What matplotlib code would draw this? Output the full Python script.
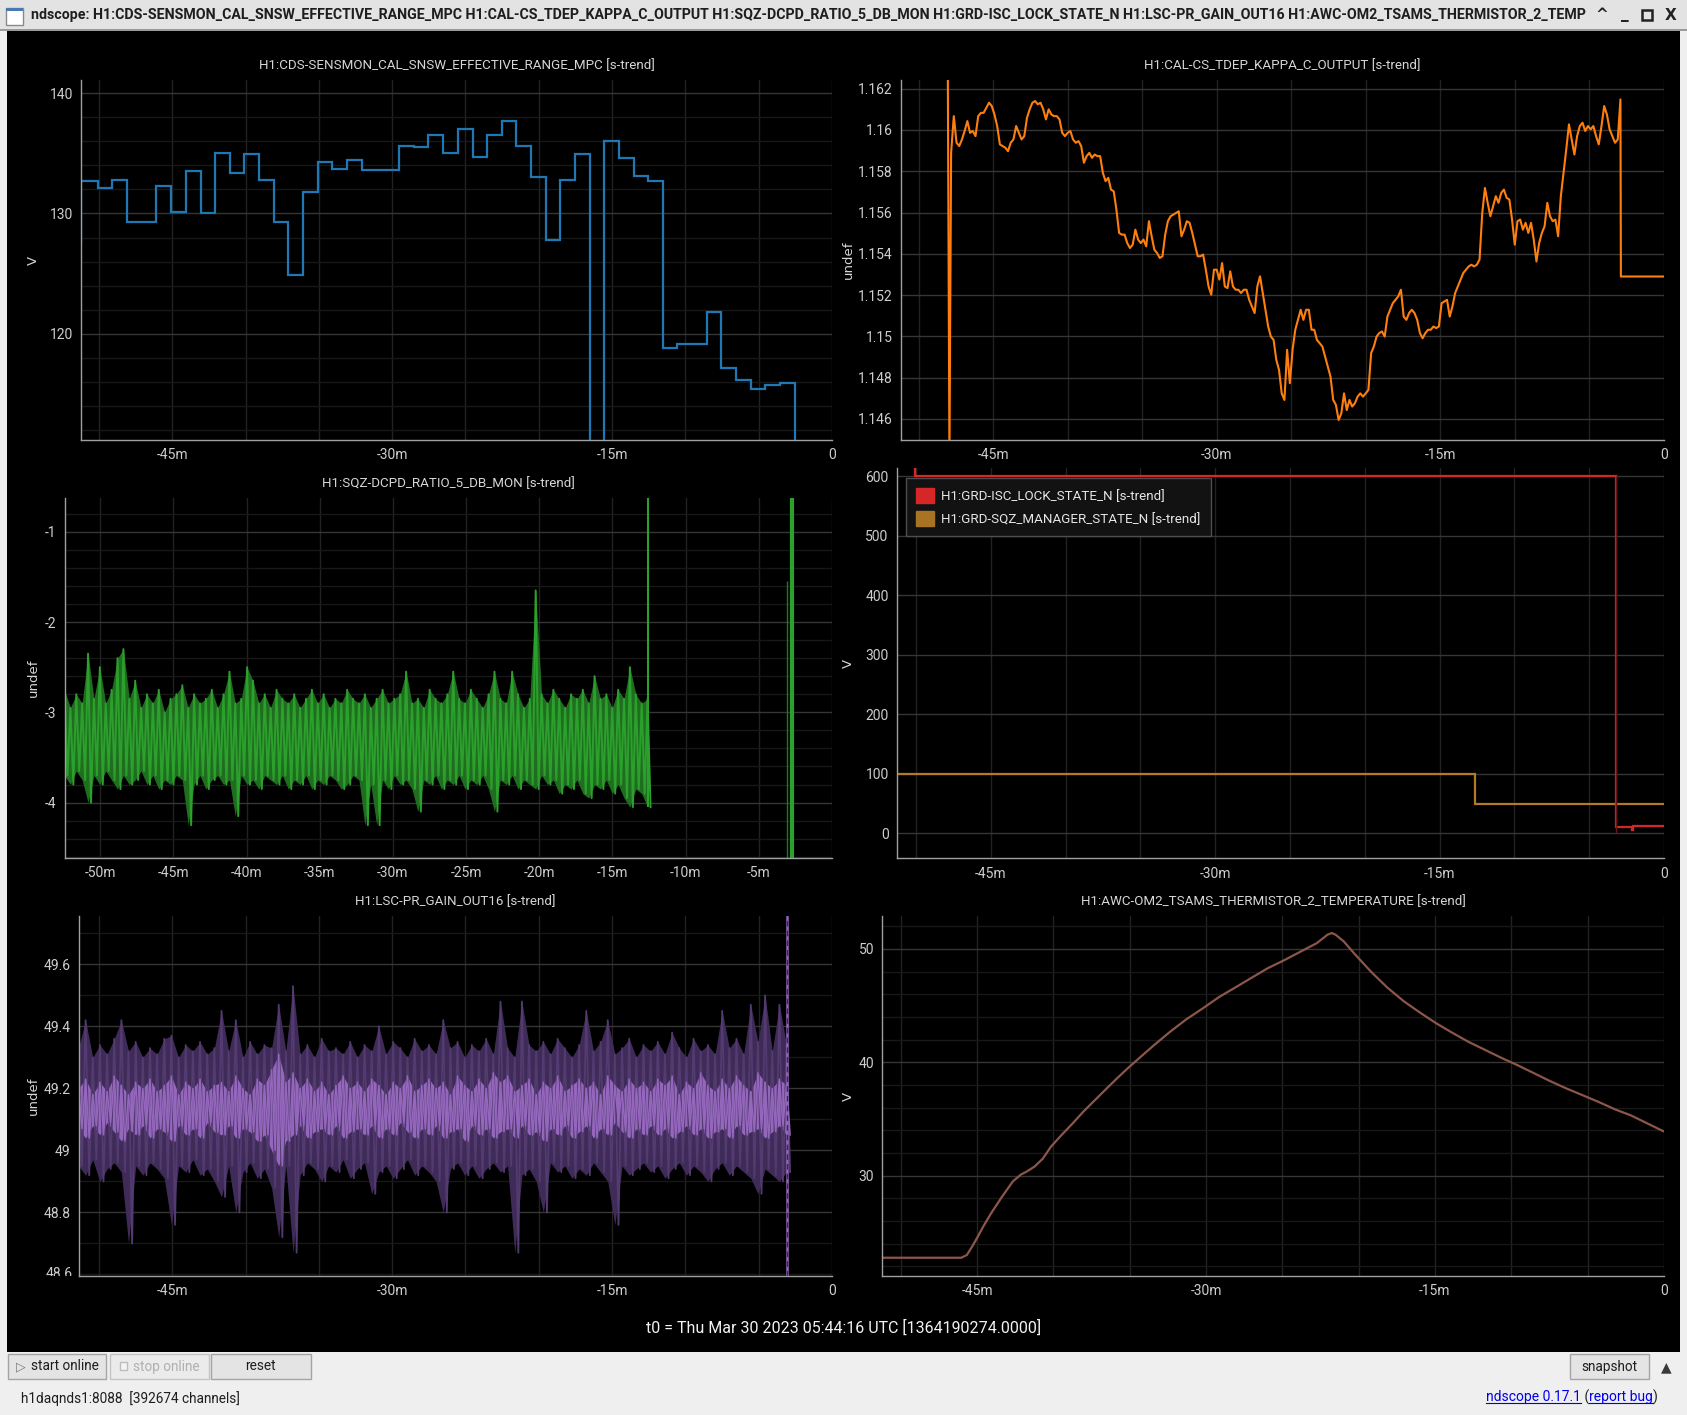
import numpy as np
import matplotlib
matplotlib.use("Agg")
import matplotlib.pyplot as plt
from matplotlib.patches import Rectangle, Patch
from matplotlib.lines import Line2D
from matplotlib.ticker import FixedLocator, MultipleLocator, FuncFormatter
from matplotlib.transforms import Bbox, TransformedBbox

W, H = 1687, 1415
UI = ['Roboto', 'DejaVu Sans']
plt.rcParams['font.family'] = UI

# ---------------- data (minutes before t0) ----------------
# H1:CDS-SENSMON_CAL_SNSW_EFFECTIVE_RANGE_MPC, step trend
range_edges = [-51.4, -51.2, -50.09, -49.09, -48.06, -46.10, -45.06, -44.07, -43.07, -42.07,
               -41.07, -40.07, -39.08, -38.08, -37.08, -36.08, -35.08, -34.09, -33.09, -32.05,
               -29.54, -28.54, -27.54, -26.51, -25.51, -24.51, -23.51, -22.51, -21.52, -20.52,
               -19.52, -18.52, -17.52, -16.53, -15.53, -14.53, -13.53, -12.53, -11.53, -10.54,
               -8.54, -7.54, -6.54, -5.55, -4.55, -3.55, -2.55, -2.45]
range_vals = [127.5, 132.7, 132.1, 132.8, 129.3, 132.3, 130.1, 133.5, 130.0, 135.0,
              133.4, 134.95, 132.8, 129.3, 124.9, 131.8, 134.3, 133.7, 134.4, 133.6,
              135.6, 135.5, 136.5, 135.0, 137.0, 134.7, 136.5, 137.7, 135.6, 133.0,
              127.8, 132.8, 134.95, 0.0, 136.0, 134.6, 133.1, 132.7, 118.8, 119.2,
              121.8, 117.2, 116.15, 115.4, 115.8, 115.95, 0.0]

# H1:CAL-CS_TDEP_KAPPA_C_OUTPUT
kappa_t0, kappa_dt = -47.818, 0.18182
kappa_vals = [
    1.15889, 1.16067, 1.15938, 1.15922, 1.15954, 1.15995, 1.16043, 1.15986, 1.15995, 1.15970,
    1.16067, 1.16083, 1.16083, 1.16108, 1.16132, 1.16116, 1.16075, 1.16019, 1.15930, 1.15922,
    1.15914, 1.15897, 1.15938, 1.15954, 1.16019, 1.15986, 1.15954, 1.15970, 1.16059, 1.16100,
    1.16132, 1.16140, 1.16124, 1.16132, 1.16100, 1.16051, 1.16100, 1.16075, 1.16067, 1.16067,
    1.16051, 1.15986, 1.15970, 1.15986, 1.15995, 1.15954, 1.15938, 1.15946, 1.15922, 1.15841,
    1.15873, 1.15889, 1.15865, 1.15881, 1.15873, 1.15873, 1.15792, 1.15752, 1.15768, 1.15711,
    1.15703, 1.15614, 1.15501, 1.15493, 1.15493, 1.15452, 1.15428, 1.15444, 1.15517, 1.15469,
    1.15452, 1.15469, 1.15436, 1.15558, 1.15485, 1.15420, 1.15404, 1.15380, 1.15388, 1.15493,
    1.15558, 1.15582, 1.15590, 1.15598, 1.15606, 1.15485, 1.15517, 1.15558, 1.15550, 1.15501,
    1.15444, 1.15388, 1.15388, 1.15396, 1.15323, 1.15242, 1.15202, 1.15323, 1.15323, 1.15275,
    1.15355, 1.15242, 1.15234, 1.15315, 1.15242, 1.15226, 1.15226, 1.15210, 1.15226, 1.15226,
    1.15177, 1.15145, 1.15113, 1.15242, 1.15291, 1.15210, 1.15129, 1.15048, 1.14999, 1.14983,
    1.14886, 1.14838, 1.14724, 1.14692, 1.14935, 1.14773, 1.14935, 1.15032, 1.15080, 1.15129,
    1.15080, 1.15129, 1.15129, 1.15032, 1.15032, 1.14983, 1.14967, 1.14951, 1.14902, 1.14854,
    1.14805, 1.14692, 1.14668, 1.14595, 1.14627, 1.14724, 1.14643, 1.14692, 1.14660, 1.14676,
    1.14708, 1.14724, 1.14708, 1.14724, 1.14741, 1.14919, 1.14951, 1.14999, 1.15016, 1.15024,
    1.14999, 1.15096, 1.15129, 1.15161, 1.15177, 1.15194, 1.15226, 1.15096, 1.15080, 1.15113,
    1.15129, 1.15113, 1.15080, 1.15016, 1.14991, 1.15016, 1.15032, 1.15032, 1.15048, 1.15040,
    1.15048, 1.15161, 1.15169, 1.15177, 1.15096, 1.15145, 1.15210, 1.15242, 1.15275, 1.15307,
    1.15323, 1.15339, 1.15347, 1.15339, 1.15347, 1.15372, 1.15598, 1.15719, 1.15647, 1.15582,
    1.15630, 1.15679, 1.15647, 1.15695, 1.15711, 1.15671, 1.15663, 1.15566, 1.15444, 1.15558,
    1.15566, 1.15517, 1.15550, 1.15501, 1.15550, 1.15469, 1.15363, 1.15452, 1.15501, 1.15533,
    1.15647, 1.15582, 1.15558, 1.15566, 1.15485, 1.15679, 1.15792, 1.15906, 1.16027, 1.15954,
    1.15881, 1.15970, 1.16019, 1.16035, 1.15995, 1.16019, 1.16003, 1.16019, 1.15970, 1.15930,
    1.16019, 1.16116, 1.16075, 1.16003, 1.15970, 1.15938, 1.15954, 1.16148]
kappa_head_t = [-48.04, -47.93]
kappa_head_v = [1.1630, 1.1440]
kappa_tail_t = [-2.88, 0.0]
kappa_tail_v = [1.1529, 1.1529]

# H1:SQZ-DCPD_RATIO_5_DB_MON, min/max envelope
sqz_span = (-52.44, -12.6)
sqz_hi = [-2.75, -2.95, -2.8, -2.9, -2.35, -2.85, -2.5, -2.9, -2.75, -2.4,
          -2.3, -2.85, -2.65, -2.95, -2.8, -2.9, -2.75, -3.0, -2.85, -2.8,
          -2.7, -2.95, -2.8, -2.9, -2.85, -2.75, -2.95, -2.8, -2.55, -2.9,
          -2.85, -2.5, -2.65, -2.9, -2.8, -2.95, -2.75, -2.85, -2.9, -2.8,
          -2.95, -2.85, -2.75, -2.9, -2.8, -2.95, -2.85, -2.9, -2.75, -2.85,
          -2.9, -2.8, -2.95, -2.85, -2.75, -2.9, -2.85, -2.8, -2.55, -2.9,
          -2.85, -2.95, -2.75, -2.85, -2.9, -2.8, -2.55, -2.85, -2.9, -2.75,
          -2.85, -2.95, -2.8, -2.55, -2.85, -2.9, -2.55, -2.8, -2.95, -2.85,
          -1.65, -2.8, -2.9, -2.75, -2.85, -2.95, -2.8, -2.85, -2.75, -2.9,
          -2.6, -2.85, -2.8, -2.95, -2.75, -2.85, -2.5, -2.8, -2.9, -2.85]
sqz_lo = [-3.7, -3.8, -3.65, -3.75, -4.0, -3.7, -3.8, -3.65, -3.75, -3.85,
          -3.7, -3.8, -3.75, -3.65, -3.8, -3.7, -3.85, -3.75, -3.8, -3.7,
          -3.75, -4.25, -3.8, -3.7, -3.85, -3.75, -3.7, -3.8, -3.75, -4.15,
          -3.7, -3.8, -3.75, -3.85, -3.7, -3.75, -3.8, -3.7, -3.85, -3.75,
          -3.8, -3.7, -3.85, -3.75, -3.8, -3.7, -3.75, -3.85, -3.8, -3.7,
          -3.75, -4.25, -3.8, -4.25, -3.75, -3.85, -3.7, -3.8, -3.75, -3.85,
          -4.1, -3.75, -3.8, -3.7, -3.85, -3.75, -3.8, -3.7, -3.85, -3.75,
          -3.8, -3.7, -3.85, -4.1, -3.75, -3.8, -3.7, -3.85, -3.75, -3.8,
          -3.85, -3.7, -3.8, -3.75, -3.9, -3.8, -3.85, -3.75, -3.9, -3.95,
          -3.8, -3.85, -3.75, -3.9, -3.8, -3.95, -4.05, -3.85, -3.9, -4.05]
sqz_spike_x = [-12.55, -3.07, -2.7]
sqz_spike_lo = [-4.05, -4.7, -4.7]
sqz_spike_hi = [-0.5, -1.55, -0.5]

# guardian states
isc_edges = [-50.15, -50.1, -3.19, -2.17, -2.1, 0.0]
isc_vals = [700, 600, 10, 5, 12]
sqzman_edges = [-51.3, -12.61, 0.0]
sqzman_vals = [100, 50]

# H1:LSC-PR_GAIN_OUT16, min/max envelope and mean band
pr_span = (-51.4, -3.1)
pr_hi = [49.33, 49.42, 49.30, 49.34, 49.31, 49.36, 49.42, 49.32, 49.35, 49.30,
         49.33, 49.31, 49.36, 49.37, 49.30, 49.34, 49.32, 49.35, 49.31, 49.33,
         49.45, 49.32, 49.42, 49.30, 49.35, 49.31, 49.34, 49.33, 49.47, 49.32,
         49.53, 49.31, 49.34, 49.30, 49.36, 49.32, 49.33, 49.31, 49.35, 49.30,
         49.34, 49.32, 49.40, 49.31, 49.35, 49.33, 49.30, 49.36, 49.32, 49.34,
         49.31, 49.42, 49.33, 49.35, 49.30, 49.34, 49.32, 49.36, 49.31, 49.48,
         49.33, 49.30, 49.48, 49.34, 49.32, 49.35, 49.31, 49.36, 49.33, 49.30,
         49.34, 49.45, 49.32, 49.35, 49.42, 49.31, 49.33, 49.36, 49.30, 49.34,
         49.32, 49.35, 49.31, 49.38, 49.33, 49.30, 49.36, 49.32, 49.34, 49.31,
         49.45, 49.33, 49.36, 49.31, 49.47, 49.35, 49.50, 49.32, 49.47, 49.34]
pr_lo = [48.95, 48.92, 48.97, 48.90, 48.94, 48.96, 48.93, 48.70, 48.95, 48.92,
         48.96, 48.94, 48.91, 48.76, 48.95, 48.93, 48.97, 48.92, 48.94, 48.90,
         48.85, 48.95, 48.80, 48.93, 48.96, 48.91, 48.94, 48.88, 48.72, 48.95,
         48.67, 48.92, 48.96, 48.94, 48.90, 48.95, 48.93, 48.97, 48.91, 48.94,
         48.96, 48.86, 48.93, 48.95, 48.91, 48.94, 48.97, 48.92, 48.95, 48.93,
         48.90, 48.80, 48.94, 48.96, 48.92, 48.95, 48.91, 48.94, 48.96, 48.93,
         48.95, 48.67, 48.92, 48.94, 48.90, 48.80, 48.96, 48.93, 48.95, 48.91,
         48.94, 48.92, 48.96, 48.93, 48.90, 48.76, 48.95, 48.92, 48.94, 48.96,
         48.93, 48.95, 48.91, 48.94, 48.96, 48.92, 48.95, 48.93, 48.90, 48.94,
         48.96, 48.92, 48.95, 48.93, 48.91, 48.86, 48.94, 48.92, 48.90, 48.93]
pr_mean_hi = [49.20, 49.23, 49.18, 49.22, 49.19, 49.24, 49.21, 49.18, 49.22, 49.20,
              49.23, 49.19, 49.21, 49.24, 49.18, 49.22, 49.20, 49.23, 49.19, 49.21,
              49.22, 49.19, 49.24, 49.20, 49.18, 49.23, 49.21, 49.26, 49.31, 49.22,
              49.25, 49.20, 49.23, 49.19, 49.22, 49.18, 49.21, 49.24, 49.20, 49.22,
              49.19, 49.23, 49.21, 49.18, 49.22, 49.20, 49.24, 49.19, 49.21, 49.23,
              49.20, 49.22, 49.18, 49.24, 49.21, 49.19, 49.23, 49.20, 49.25, 49.22,
              49.24, 49.19, 49.21, 49.23, 49.18, 49.22, 49.20, 49.24, 49.19, 49.21,
              49.23, 49.20, 49.22, 49.18, 49.24, 49.21, 49.19, 49.23, 49.20, 49.22,
              49.19, 49.23, 49.21, 49.24, 49.18, 49.22, 49.20, 49.25, 49.21, 49.19,
              49.23, 49.20, 49.24, 49.21, 49.19, 49.25, 49.22, 49.20, 49.23, 49.21]
pr_mean_lo = [49.07, 49.04, 49.08, 49.05, 49.09, 49.06, 49.03, 49.07, 49.05, 49.08,
              49.04, 49.07, 49.06, 49.03, 49.08, 49.05, 49.07, 49.04, 49.09, 49.06,
              49.05, 49.08, 49.04, 49.07, 49.06, 49.03, 49.05, 49.00, 48.95, 49.03,
              49.05, 49.08, 49.04, 49.06, 49.07, 49.05, 49.08, 49.04, 49.06, 49.07,
              49.05, 49.08, 49.04, 49.07, 49.05, 49.09, 49.06, 49.04, 49.07, 49.05,
              49.08, 49.04, 49.06, 49.07, 49.03, 49.08, 49.05, 49.07, 49.04, 49.06,
              49.07, 49.04, 49.08, 49.05, 49.06, 49.03, 49.07, 49.05, 49.08, 49.04,
              49.06, 49.08, 49.04, 49.07, 49.05, 49.09, 49.06, 49.04, 49.07, 49.05,
              49.08, 49.05, 49.07, 49.04, 49.06, 49.08, 49.05, 49.07, 49.04, 49.06,
              49.07, 49.04, 49.08, 49.05, 49.06, 49.07, 49.04, 49.06, 49.08, 49.05]
pr_spike_x = -3.08

# H1:AWC-OM2_TSAMS_THERMISTOR_2_TEMPERATURE
temp_t = [-51.22, -46.04, -45.68, -45.33, -44.97, -44.61, -44.08, -43.37, -42.66, -42.13,
          -41.77, -41.24, -40.70, -40.17, -39.46, -38.75, -38.04, -37.33, -36.62, -35.90,
          -35.19, -34.48, -33.42, -32.35, -31.28, -30.22, -29.15, -28.08, -27.02, -25.95,
          -24.88, -23.82, -22.75, -22.04, -21.76, -21.51, -20.97, -20.26, -19.20, -18.13,
          -17.06, -16.00, -14.93, -13.86, -12.80, -11.73, -10.66, -9.60, -8.53, -7.47,
          -6.40, -5.33, -4.27, -3.20, -2.13, -1.07, 0.0]
temp_v = [22.76, 22.76, 23.0, 23.75, 24.6, 25.5, 26.7, 28.15, 29.5, 30.1,
          30.35, 30.8, 31.5, 32.55, 33.6, 34.6, 35.65, 36.6, 37.55, 38.5,
          39.4, 40.25, 41.5, 42.7, 43.8, 44.75, 45.75, 46.6, 47.45, 48.3,
          49.0, 49.75, 50.5, 51.25, 51.4, 51.25, 50.65, 49.55, 48.0, 46.6,
          45.4, 44.4, 43.45, 42.6, 41.8, 41.1, 40.4, 39.75, 39.05, 38.35,
          37.7, 37.1, 36.5, 35.85, 35.3, 34.6, 33.9]

t0_label = "t0 = Thu Mar 30 2023 05:44:16 UTC [1364190274.0000]"
window_title = ("ndscope: H1:CDS-SENSMON_CAL_SNSW_EFFECTIVE_RANGE_MPC H1:CAL-CS_TDEP_KAPPA_C_OUTPUT "
                "H1:SQZ-DCPD_RATIO_5_DB_MON H1:GRD-ISC_LOCK_STATE_N H1:LSC-PR_GAIN_OUT16 "
                "H1:AWC-OM2_TSAMS_THERMISTOR_2_TEMPERATURE H1:GRD-SQZ_MANAGER_STATE_N")

# ---------------- figure ----------------
fig = plt.figure(figsize=(W / 100, H / 100), dpi=100, facecolor='#efefef')
renderer = fig.canvas.get_renderer()


def fx(x):
    return x / W


def fy(y):
    return 1 - y / H


def frect(x0, y0, x1, y1, z=-10, **kw):
    r = Rectangle((fx(x0), fy(y1)), (x1 - x0) / W, (y1 - y0) / H,
                  transform=fig.transFigure, zorder=z, **kw)
    fig.add_artist(r)
    return r


def zigzag(t, hi, lo):
    # interleave max/min so the trend looks like dense vertical strokes
    t = np.asarray(t)
    half = (t[1] - t[0]) / 2
    xs = np.column_stack([t, t + half]).ravel()
    ys = np.column_stack([hi, lo]).ravel()
    return xs, ys


# window chrome
frect(0, 0, W, 29, facecolor='#e3e3e3', edgecolor='none')
frect(0, 29, W, 31, facecolor='#9a9a9a', edgecolor='none')
frect(6.5, 30.7, 1680, 1351.7, facecolor='black', edgecolor='none')
frect(6, 8, 23, 25, facecolor='white', edgecolor='#8a8a8a', lw=1)
frect(6, 8, 23, 11, facecolor='#4a78b0', edgecolor='none')
tt = fig.text(fx(31), fy(15.5), window_title, ha='left', va='center', fontsize=10.2,
              fontweight='bold', color='#1e1e1e')
shown = window_title
while tt.get_window_extent(renderer).x1 > 1586 and len(shown) > 10:
    shown = shown[:-1]
    tt.set_text(shown)
for x, s in [(1602, '^'), (1625, '_'), (1671, 'X')]:
    fig.text(fx(x), fy(15), s, ha='center', va='center', fontsize=11, fontweight='bold',
             color='#222222', family='DejaVu Sans')
frect(1642, 10, 1652, 20, z=1, facecolor='none', edgecolor='#222222', lw=1.8)

TXT = '#d6d6d6'
TICK = '#cdcdcd'


def xfmt(v, p):
    return '0' if abs(v) < 1e-9 else '%dm' % round(v)


def panel(box, xlim, ylim, ymajor, yminor, xticks, title, ylabel, yticks=None):
    l, t, r, b = box
    ax = fig.add_axes([fx(l), fy(b), (r - l) / W, (b - t) / H])
    ax.set_facecolor('black')
    ax.set_xlim(*xlim)
    ax.set_ylim(*ylim)
    for s in ('top', 'right'):
        ax.spines[s].set_visible(False)
    for s in ('left', 'bottom'):
        ax.spines[s].set_color('#a0a0a0')
        ax.spines[s].set_linewidth(1.0)
    ax.xaxis.set_major_locator(FixedLocator(xticks))
    ax.xaxis.set_minor_locator(MultipleLocator(5))
    ax.xaxis.set_major_formatter(FuncFormatter(xfmt))
    if yticks is not None:
        ax.yaxis.set_major_locator(FixedLocator(yticks))
    else:
        ax.yaxis.set_major_locator(MultipleLocator(ymajor))
    ax.yaxis.set_major_formatter(FuncFormatter(lambda v, p: '%g' % round(v, 6)))
    ax.grid(which='major', axis='y', color='#363636', lw=1)
    if yminor:
        ax.yaxis.set_minor_locator(MultipleLocator(yminor))
        ax.grid(which='minor', axis='y', color='#181818', lw=1)
    ax.grid(which='both', axis='x', color='#222222', lw=1)
    ax.tick_params(which='both', length=0, colors=TICK, labelsize=10, pad=6)
    ax.set_axisbelow(True)
    if title:
        fig.text(fx((l + r) / 2), fy(t - 14.5), title, ha='center', va='center',
                 fontsize=9.6, color=TXT)
    lx = 33.6 if l < 400 else 848
    fig.text(fx(lx), fy((t + b) / 2), ylabel, ha='center', va='center', rotation=90,
             fontsize=9.5, color=TXT, family='DejaVu Sans')
    return ax


# top left: range
ax1 = panel((81.3, 80, 832, 440), (-51.2, 0), (111.2, 141.08), 10, 2, [-45, -30, -15, 0],
            'H1:CDS-SENSMON_CAL_SNSW_EFFECTIVE_RANGE_MPC [s-trend]', 'V')
ax1.stairs(range_vals, range_edges, baseline=None, color='#1f77b4', lw=1.6)

# top right: kappa_c
ax2 = panel((900.7, 80, 1663.8, 440), (-51.2, 0), (1.14498, 1.16242), 0.002, None,
            [-45, -30, -15, 0], 'H1:CAL-CS_TDEP_KAPPA_C_OUTPUT [s-trend]', 'undef')
kt = np.concatenate([kappa_head_t, kappa_t0 + kappa_dt * np.arange(len(kappa_vals)), kappa_tail_t])
kv = np.concatenate([kappa_head_v, kappa_vals, kappa_tail_v])
ax2.plot(kt, kv, color='#ff7f0e', lw=1.5)

# middle left: squeeze ratio
ax3 = panel((64.5, 498.3, 832, 857.7), (-52.44, 0), (-4.61, -0.63), 1, 0.2,
            list(range(-50, 0, 5)), 'H1:SQZ-DCPD_RATIO_5_DB_MON [s-trend]', 'undef')
st = np.linspace(sqz_span[0], sqz_span[1], len(sqz_hi))
ax3.fill_between(st, sqz_lo, sqz_hi, color='#1f6e1f', lw=0)
zx, zy = zigzag(st, sqz_hi, sqz_lo)
ax3.plot(zx, zy, color='#2ca02c', lw=1.4)
ax3.vlines(sqz_spike_x, sqz_spike_lo, sqz_spike_hi, colors=['#2ca02c', '#1e7a1e', '#2ca02c'],
           lw=[1.5, 1.0, 3.0])

# middle right: guardian states
ax4 = panel((897, 468.3, 1664, 858.3), (-51.27, 0), (-42, 613), 100, None,
            [-45, -30, -15, 0], None, 'V')
ax4.stairs(sqzman_vals, sqzman_edges, baseline=None, color='#b27a24', lw=1.6)
ax4.vlines([-3.23], [0], [600], colors='#6e1616', lw=1.0)
ax4.stairs(isc_vals, isc_edges, baseline=None, color='#d62728', lw=1.6)
ax4.plot([isc_edges[1], isc_edges[1]], [613, 600], color='#d62728', lw=1.6)
leg = ax4.legend([Patch(facecolor='#d62728', edgecolor='#d62728'),
                  Patch(facecolor='#a87424', edgecolor='#a87424')],
                 ['H1:GRD-ISC_LOCK_STATE_N [s-trend]', 'H1:GRD-SQZ_MANAGER_STATE_N [s-trend]'],
                 loc='upper left', bbox_to_anchor=((906 - 897) / 767, 1 - (478 - 468.3) / 390),
                 borderaxespad=0, frameon=True, facecolor='#121212', edgecolor='#4e4e4e',
                 framealpha=1, fancybox=False, handlelength=1.35, handleheight=1.35,
                 handletextpad=0.55, labelspacing=0.6, borderpad=0.75, fontsize=9.6,
                 labelcolor='#e6e6e6')
leg.get_frame().set_linewidth(1.0)

# bottom left: PR gain
ax5 = panel((78.6, 916, 832, 1276), (-51.39, 0), (48.595, 49.756), 0.2, 0.1,
            [-45, -30, -15, 0], 'H1:LSC-PR_GAIN_OUT16 [s-trend]', 'undef',
            yticks=[48.8, 49.0, 49.2, 49.4, 49.6])
pt = np.linspace(pr_span[0], pr_span[1], len(pr_hi))
ax5.fill_between(pt, pr_lo, pr_hi, color='#3f2b57', lw=0)
zx, zy = zigzag(pt, pr_hi, pr_lo)
ax5.plot(zx, zy, color='#533a70', lw=1.3)
ax5.fill_between(pt, pr_mean_lo, pr_mean_hi, color='#9467bd', lw=0)
zx, zy = zigzag(pt, pr_mean_hi, pr_mean_lo)
ax5.plot(zx, zy, color='#9467bd', lw=1.1)
ax5.axvline(pr_spike_x, color='#9467bd', lw=1.8)
ax5.axvline(pr_spike_x, color='#3a2652', lw=1.0, ls=(0, (4, 3)))
cut = ax5.text(-0.008, 48.6, '48.6', transform=ax5.get_yaxis_transform(), ha='right',
               va='center', fontsize=10, color=TICK, clip_on=True)
cut.set_clip_box(TransformedBbox(Bbox([[-0.2, 0], [1, 1]]), ax5.transAxes))

# bottom right: thermistor
ax6 = panel((882.3, 916, 1663.8, 1276), (-51.22, 0), (21.15, 52.9), 10, 2,
            [-45, -30, -15, 0], 'H1:AWC-OM2_TSAMS_THERMISTOR_2_TEMPERATURE [s-trend]', 'V')
ax6.plot(temp_t, temp_v, color='#8c564b', lw=1.6)

# t0 line
fig.text(fx(843.6), fy(1328), t0_label, ha='center', va='center', fontsize=11.5, color='#f2f2f2')


# bottom controls
def button(x0, x1, label, color='#1e1e1e', face='#e4e4e4', edge='#a4a4a4', tx=None):
    frect(x0, 1354, x1, 1379, z=1, facecolor=face, edgecolor=edge, lw=1)
    return fig.text(fx(tx if tx else (x0 + x1) / 2), fy(1366.5), label,
                    ha='left' if tx else 'center', va='center', fontsize=9.8, color=color)


button(7.6, 106, 'start online', tx=31)
fig.text(fx(21), fy(1366.5), '\u25b7', ha='center', va='center', fontsize=9, color='#777777',
         family='DejaVu Sans')
button(109.5, 208.7, 'stop online', color='#b0b0b0', face='#ebebeb', edge='#c4c4c4', tx=133)
frect(120, 1362, 127, 1370, z=2, facecolor='#f4f4f4', edgecolor='#bdbdbd', lw=1)
button(211, 310.6, 'reset')
button(1570, 1649, 'snapshot')
fig.text(fx(1666), fy(1367), '\u25b2', ha='center', va='center', fontsize=10, color='#3a3a3a',
         family='DejaVu Sans')
fig.text(fx(20.6), fy(1399), 'h1daqnds1:8088  [392674 channels]', ha='left', va='center',
         fontsize=9.8, color='#1e1e1e')

pieces = [('ndscope 0.17.1', True), (' (', False), ('report bug', True), (')', False)]
texts = []
for piece, link in pieces:
    texts.append(fig.text(0, fy(1397), piece, ha='left', va='center', fontsize=10,
                          color='#0000ee' if link else '#1e1e1e'))
total = sum(t.get_window_extent(renderer).width for t in texts)
x = 1658 - total
for t, (piece, link) in zip(texts, pieces):
    t.set_x(fx(x))
    bb = t.get_window_extent(renderer)
    if link:
        fig.add_artist(Line2D([bb.x0 / W, bb.x1 / W], [(bb.y0 + 1) / H] * 2,
                              transform=fig.transFigure, color='#0000ee', lw=0.8))
    x = bb.x1

fig.savefig('out.png', dpi=100, facecolor=fig.get_facecolor())
